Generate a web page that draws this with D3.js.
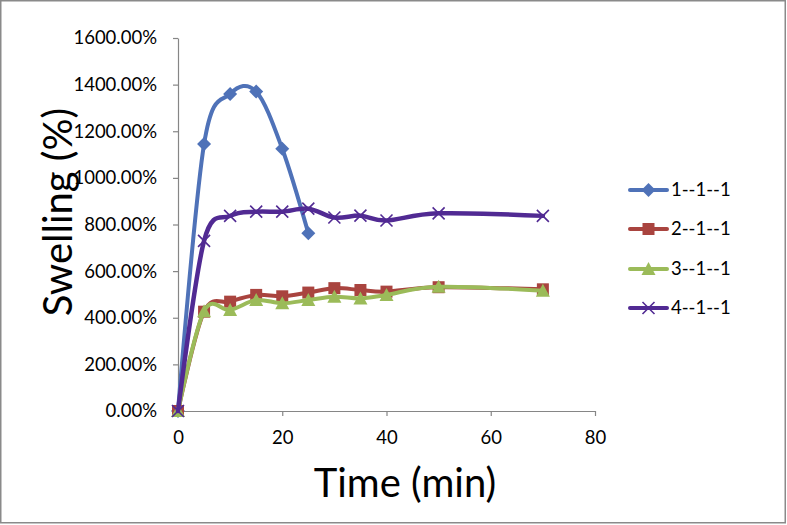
<!DOCTYPE html>
<html><head><meta charset="utf-8">
<script src="https://cdn.jsdelivr.net/npm/d3@7"></script>
<style>
body{margin:0;background:#fff;}
svg{display:block;font-family:Lato, "Open Sans", sans-serif;}
</style></head>
<body><svg id="c" width="787" height="525"></svg>
<script>
const times = [0, 5, 10, 15, 20, 25, 30, 35, 40, 50, 70];
const seriesNames = ["1--1--1", "2--1--1", "3--1--1", "4--1--1"];
const s1 = [0, 1145, 1360, 1370, 1125, 763];
const s2 = [0, 426, 469, 498, 492, 508, 527, 519, 512, 531, 522];
const s3 = [0, 428, 433, 476, 462, 476, 490, 483, 498, 533, 516];
const s4 = [0, 730, 837, 855, 855, 868, 830, 838, 817, 848, 837];
const colors = ["#4F72B8", "#A9443F", "#9BBB59", "#512A93"];
const markers = ["diamond", "square", "triangle", "cross"];
const xTicks = [0, 20, 40, 60, 80];
const yTicks = [0, 200, 400, 600, 800, 1000, 1200, 1400, 1600];

const svg = d3.select("#c");
const x = d3.scaleLinear().domain([0, 80]).range([178, 595]);
const y = d3.scaleLinear().domain([0, 1600]).range([411, 38]);

// outer border
svg.append("rect").attr("x", 0.75).attr("y", 0.75).attr("width", 784.5).attr("height", 522)
  .attr("fill", "none").attr("stroke", "#8a8a8a").attr("stroke-width", 1.5);

const axisColor = "#868686";
const gx = svg.append("g").attr("transform", `translate(0,${y(0)})`)
  .call(d3.axisBottom(x).tickValues(xTicks).tickSize(5).tickPadding(15).tickSizeOuter(0));
const gy = svg.append("g").attr("transform", `translate(${x(0)},0)`)
  .call(d3.axisLeft(y).tickValues(yTicks).tickSize(5).tickPadding(16).tickSizeOuter(0)
    .tickFormat(d => d.toFixed(2) + "%"));
[gx, gy].forEach(g => {
  g.select(".domain").attr("stroke", axisColor).attr("stroke-width", 1.2);
  g.selectAll(".tick line").attr("stroke", axisColor).attr("stroke-width", 1.2);
  g.selectAll("text").attr("fill", "#000").attr("font-size", 18.5).attr("font-family", "Lato");
});

// axis titles
svg.append("text").attr("x", 405).attr("y", 497).attr("text-anchor", "middle")
  .attr("font-size", 40).text("Time (min)");
svg.append("text").attr("transform", "translate(72,212) rotate(-90)").attr("text-anchor", "middle")
  .attr("font-size", 40).text("Swelling (%)");

const data = [s1, s2, s3, s4].map((vals, i) => ({
  name: seriesNames[i], color: colors[i], marker: markers[i],
  pts: vals.map((v, j) => [times[j], v])
}));

const line = d3.line().x(d => x(d[0])).y(d => y(d[1])).curve(d3.curveCardinal.tension(0));

function drawMarker(g, type, cx, cy, color) {
  const s = 6;
  if (type === "diamond") {
    g.append("path").attr("d", `M${cx},${cy - s - 1}L${cx + s + 1},${cy}L${cx},${cy + s + 1}L${cx - s - 1},${cy}Z`).attr("fill", color);
  } else if (type === "square") {
    g.append("rect").attr("x", cx - s).attr("y", cy - s).attr("width", 2 * s).attr("height", 2 * s).attr("fill", color);
  } else if (type === "triangle") {
    g.append("path").attr("d", `M${cx},${cy - s - 1}L${cx + s + 1},${cy + s}L${cx - s - 1},${cy + s}Z`).attr("fill", color);
  } else {
    g.append("path").attr("d", `M${cx - s},${cy - s}L${cx + s},${cy + s}M${cx - s},${cy + s}L${cx + s},${cy - s}`)
      .attr("stroke", color).attr("stroke-width", 1.6).attr("fill", "none");
  }
}

data.forEach((s, i) => {
  const g = svg.append("g");
  g.append("path").attr("d", line(s.pts)).attr("fill", "none").attr("stroke", s.color)
    .attr("stroke-width", i === 3 ? 4.5 : 4).attr("stroke-linejoin", "round").attr("stroke-linecap", "round");
  s.pts.forEach(p => drawMarker(g, s.marker, x(p[0]), y(p[1]), s.color));
});

// legend
const legY = [190, 229, 269, 308];
data.forEach((s, i) => {
  const g = svg.append("g");
  g.append("line").attr("x1", 630).attr("x2", 667).attr("y1", legY[i]).attr("y2", legY[i])
    .attr("stroke", s.color).attr("stroke-width", 4).attr("stroke-linecap", "round");
  drawMarker(g, s.marker, 648.5, legY[i], s.color);
  g.append("text").attr("x", 671).attr("y", legY[i]).attr("dy", "0.35em")
    .attr("font-size", 18.5).text(s.name);
});
</script></body></html>
